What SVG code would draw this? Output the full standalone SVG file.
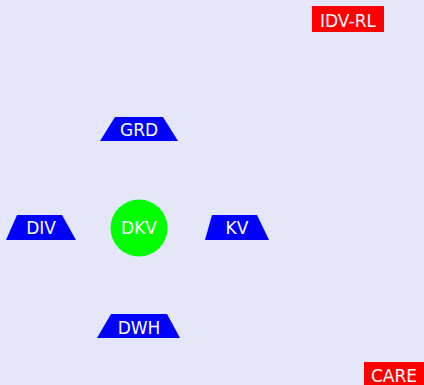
<svg xmlns="http://www.w3.org/2000/svg" width="424" height="385" viewBox="0 0 424 385">
  <style>
    .lbl { font-family: "DejaVu Sans", sans-serif; font-size: 17px; fill: #ffffff; text-anchor: middle; }
    .trap { fill: #0000ff; }
    .tag { fill: #ff0000; }
  </style>
  <rect width="424" height="385" fill="#e6e6fa"/>
  <g id="connectors"></g>
  <g id="IDV-RL">
    <rect class="tag" x="312" y="6" width="72" height="26"/>
    <text class="lbl" x="348" y="26.5">IDV-RL</text>
  </g>
  <g id="GRD">
    <polygon class="trap" points="115,117 163,117 178,141 100,141"/>
    <text class="lbl" x="139" y="136">GRD</text>
  </g>
  <g id="DIV">
    <polygon class="trap" points="17,215 62,215 76,240 6,240"/>
    <text class="lbl" x="41" y="234">DIV</text>
  </g>
  <g id="DKV">
    <circle cx="139" cy="228" r="28.5" fill="#00ff00"/>
    <text class="lbl" x="139" y="234">DKV</text>
  </g>
  <g id="KV">
    <polygon class="trap" points="212,215 257,215 269,240 205,240"/>
    <text class="lbl" x="237" y="234">KV</text>
  </g>
  <g id="DWH">
    <polygon class="trap" points="111,314 167,314 180,338 97,338"/>
    <text class="lbl" x="139" y="334">DWH</text>
  </g>
  <g id="CARE">
    <rect class="tag" x="364" y="362" width="62" height="26"/>
    <text class="lbl" x="394" y="382">CARE</text>
  </g>
</svg>
